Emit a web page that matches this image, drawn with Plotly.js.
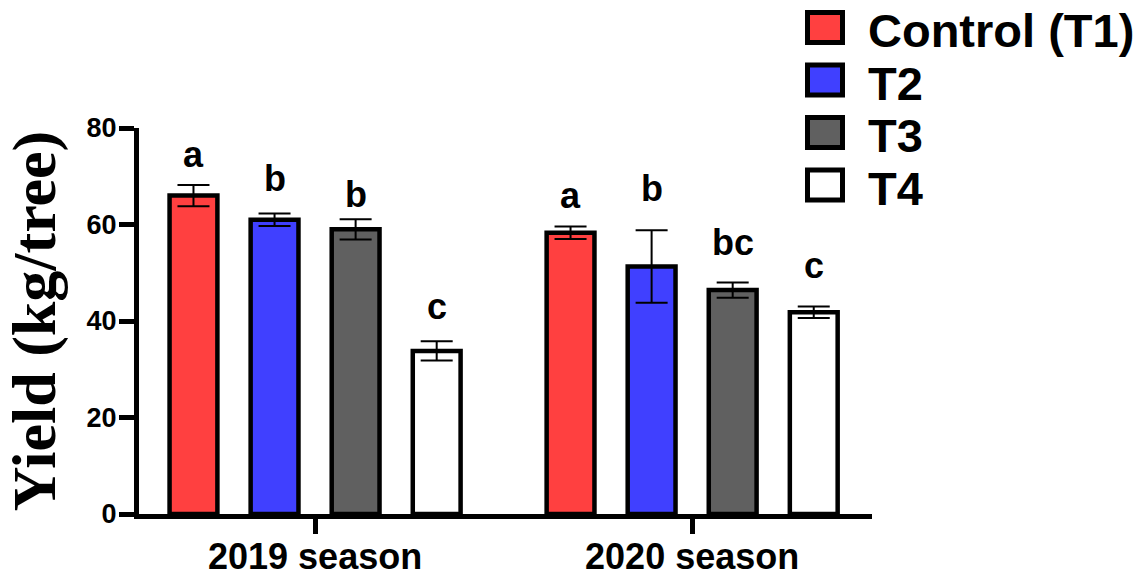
<!DOCTYPE html>
<html>
<head>
<meta charset="utf-8">
<script src="https://cdn.plot.ly/plotly-3.0.1.min.js"></script>
<style>html,body{margin:0;padding:0;background:#fff;}#chart{width:1142px;height:576px;}</style>
</head>
<body>
<div id="chart"></div>
<script>
// ---- data ----
const categories = ['2019 season', '2020 season'];
const seriesNames = ['Control (T1)', 'T2', 'T3', 'T4'];
const controlT1 = [66.0, 58.3];
const t2 = [61.0, 51.3];
const t3 = [59.0, 46.4];
const t4 = [33.8, 41.8];
const controlT1Err = [2.2, 1.3];
const t2Err = [1.3, 7.5];
const t3Err = [2.1, 1.6];
const t4Err = [2.0, 1.2];
const controlT1Letters = ['a', 'a'];
const t2Letters = ['b', 'b'];
const t3Letters = ['b', 'bc'];
const t4Letters = ['c', 'c'];
const controlT1LetterY = [71.4, 63.0];
const t2LetterY = [66.5, 64.5];
const t3LetterY = [63.2, 53.3];
const t4LetterY = [39.9, 48.4];
const yTicks = [0, 20, 40, 60, 80];

// ---- style ----
const colors = ['#FF4040', '#4040FF', '#606060', '#FFFFFF'];
const values = [controlT1, t2, t3, t4];
const errs = [controlT1Err, t2Err, t3Err, t4Err];
const letters = [controlT1Letters, t2Letters, t3Letters, t4Letters];
const letterY = [controlT1LetterY, t2LetterY, t3LetterY, t4LetterY];

const W = 1142, H = 576;
const M = {l: 139, r: 270, t: 128, b: 62};
const bargap = 0.14;
const nSeries = seriesNames.length;
const bold = 'Liberation Sans, Arial, sans-serif';

const traces = values.map((v, i) => ({
  type: 'bar',
  name: seriesNames[i],
  x: categories,
  y: v,
  marker: {color: colors[i], line: {color: '#000', width: 4.5}},
  error_y: {type: 'data', array: errs[i], visible: true, color: '#000', thickness: 2, width: 16},
  showlegend: false,
  hoverinfo: 'skip'
}));

const annotations = [];
const slot = (1 - bargap) / nSeries;
values.forEach((v, i) => {
  categories.forEach((c, g) => {
    annotations.push({
      xref: 'x', yref: 'y',
      x: g + (i - (nSeries - 1) / 2) * slot,
      y: letterY[i][g],
      text: '<b>' + letters[i][g] + '</b>',
      showarrow: false,
      xanchor: 'center', yanchor: 'bottom', yshift: -8,
      font: {family: bold, size: 36, color: '#000'}
    });
  });
});

// custom legend (big squares as in the reference)
const plotW = W - M.l - M.r, plotH = H - M.t - M.b;
const px = x => (x - M.l) / plotW;
const py = y => 1 - (y - M.t) / plotH;
const shapes = [];
const legTop = 27.5, legStep = 52.5;
seriesNames.forEach((n, i) => {
  const cy = legTop + i * legStep;
  shapes.push({
    type: 'rect', xref: 'paper', yref: 'paper',
    x0: px(807.5), x1: px(842.5), y0: py(cy - 15), y1: py(cy + 15),
    fillcolor: colors[i], line: {color: '#000', width: 5}
  });
  annotations.push({
    xref: 'paper', yref: 'paper', x: px(866), y: py(cy + 3),
    xanchor: 'left', yanchor: 'middle', showarrow: false,
    text: '<b>' + n + '</b>',
    font: {family: bold, size: 47, color: '#000'}
  });
});

const layout = {
  width: W, height: H,
  margin: M,
  paper_bgcolor: '#fff', plot_bgcolor: '#fff',
  barmode: 'group', bargap: bargap, bargroupgap: 0.41,
  showlegend: false,
  xaxis: {
    type: 'category',
    range: [-0.467, 1.477],
    showline: true, linecolor: '#000', linewidth: 5,
    ticks: 'outside', ticklen: 15, tickwidth: 5, tickcolor: '#000',
    ticklabelstandoff: -8,
    showgrid: false, zeroline: false,
    tickfont: {family: bold, size: 36, color: '#000', weight: 'bold'}
  },
  yaxis: {
    range: [0, 80],
    tickvals: yTicks,
    showline: true, linecolor: '#000', linewidth: 5,
    ticks: 'outside', ticklen: 15, tickwidth: 5, tickcolor: '#000',
    ticklabelstandoff: -3,
    showgrid: false, zeroline: false,
    tickfont: {family: bold, size: 27, color: '#000', weight: 'bold'},
    title: {text: '<b>Yield (kg/tree)</b>', font: {family: 'Liberation Serif, Times New Roman, serif', size: 62, color: '#000'}, standoff: 18}
  },
  annotations: annotations,
  shapes: shapes
};

Plotly.newPlot('chart', traces, layout, {staticPlot: true, displayModeBar: false});
</script>
</body>
</html>
